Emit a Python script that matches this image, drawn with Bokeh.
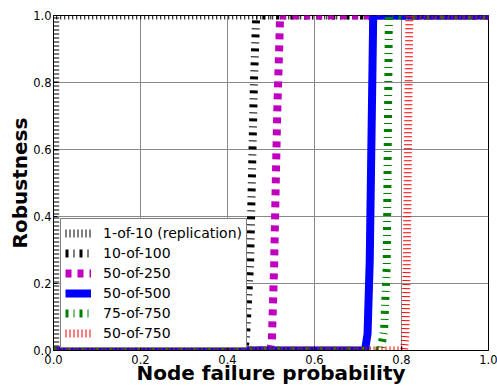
from bokeh.plotting import figure
from bokeh.models import Range1d, FixedTicker, PrintfTickFormatter, Legend, LegendItem
from bokeh.embed import file_html
from bokeh.resources import INLINE

# ---- data ----
p_1of10 = [0.004, 0.004, 1.0]
r_1of10 = [0.0, 1.0, 1.0]

p_10of100 = [0.0, 0.438, 0.442, 0.452, 0.459, 0.461, 0.466, 1.0]
r_10of100 = [0.0, 0.0, 0.03, 0.26, 0.695, 0.81, 1.0, 1.0]

p_50of250 = [0.0, 0.498, 0.502, 0.507, 0.514, 0.521, 1.0]
r_50of250 = [0.0, 0.0, 0.03, 0.245, 0.695, 1.0, 1.0]

p_50of500 = [0.0, 0.716, 0.722, 0.727, 0.735, 1.0]
r_50of500 = [0.0, 0.0, 0.05, 0.27, 1.0, 1.0]

p_75of750 = [0.0, 0.752, 0.760, 0.766, 0.771, 1.0]
r_75of750 = [0.0, 0.0, 0.06, 0.25, 1.0, 1.0]

p_50of750b = [0.0, 0.806, 0.809, 0.812, 0.818, 1.0]
r_50of750b = [0.0, 0.0, 0.05, 0.25, 1.0, 1.0]

series_labels = ["1-of-10 (replication)", "10-of-100", "50-of-250",
                 "50-of-500", "75-of-750", "50-of-750"]
x_ticks = [0.0, 0.2, 0.4, 0.6, 0.8, 1.0]
y_ticks = [0.0, 0.2, 0.4, 0.6, 0.8, 1.0]

FONT = "DejaVu Sans"

p = figure(width=497, height=387, output_backend="svg", toolbar_location=None,
           x_range=Range1d(0, 1), y_range=Range1d(0, 1),
           min_border_left=53, min_border_right=9, min_border_top=15,
           min_border_bottom=37)

p.background_fill_color = "white"
p.border_fill_color = "white"
p.outline_line_color = "black"
p.outline_line_width = 1

for ax in (p.xaxis[0], p.yaxis[0]):
    ax.major_label_text_font = FONT
    ax.major_label_text_font_size = "11.5px"
    ax.major_label_text_color = "black"
    ax.axis_label_text_font = FONT
    ax.axis_label_text_font_size = "20px"
    ax.axis_label_text_font_style = "bold"
    ax.axis_label_text_color = "black"
    ax.major_tick_in = 4
    ax.major_tick_out = 0
    ax.minor_tick_in = 0
    ax.minor_tick_out = 0
    ax.axis_line_color = "black"
    ax.formatter = PrintfTickFormatter(format="%.1f")

p.xaxis[0].ticker = FixedTicker(ticks=x_ticks)
p.yaxis[0].ticker = FixedTicker(ticks=y_ticks)
p.xaxis[0].axis_label = "Node failure probability"
p.yaxis[0].axis_label = "Robustness"
p.xaxis[0].major_label_standoff = 4
p.xaxis[0].axis_label_standoff = -6
p.yaxis[0].major_label_standoff = 2
p.yaxis[0].axis_label_standoff = -2

p.xgrid[0].ticker = FixedTicker(ticks=x_ticks)
p.ygrid[0].ticker = FixedTicker(ticks=y_ticks)
for g in (p.xgrid[0], p.ygrid[0]):
    g.grid_line_color = "#888888"
    g.grid_line_width = 1

LW = 8
r1 = p.line(p_1of10, r_1of10, line_color="black", line_width=LW, line_dash="1 3")
r2 = p.line(p_10of100, r_10of100, line_color="black", line_width=LW, line_dash="3 5 1 5")
r3 = p.line(p_50of250, r_50of250, line_color="#bf00bf", line_width=LW, line_dash="6 6")
r4 = p.line(p_50of500, r_50of500, line_color="#0000ff", line_width=LW)
r5 = p.line(p_75of750, r_75of750, line_color="#008000", line_width=LW, line_dash="3 5 1 5")
r6 = p.line(p_50of750b, r_50of750b, line_color="#ff0000", line_width=LW, line_dash="1 3")

items = [LegendItem(label=lab, renderers=[r]) for lab, r in
         zip(series_labels, [r1, r2, r3, r4, r5, r6])]
legend = Legend(items=items, location=(7, 2), margin=0, padding=4,
                spacing=0, glyph_width=26, glyph_height=20, label_height=20,
                label_standoff=12, label_text_font=FONT,
                label_text_font_size="14px", label_text_color="black",
                border_line_color="black", border_line_width=1,
                background_fill_color="white", background_fill_alpha=1.0)
p.add_layout(legend, "center")

open("out.html", "w").write(file_html(p, INLINE))
